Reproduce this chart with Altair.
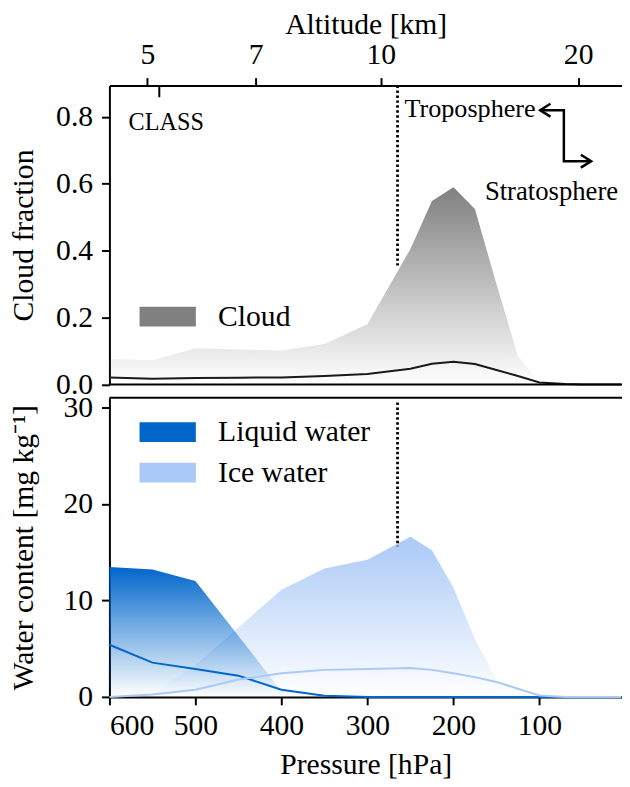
import altair as alt
import pandas as pd

# ---------------- data ----------------
pressure = [600, 550, 500, 450, 400, 350, 300, 250, 225, 200, 175, 150, 125, 100, 70, 50, 30, 20, 10, 5]
cloud_area = [0.076, 0.072, 0.108, 0.104, 0.101, 0.121, 0.180, 0.405, 0.548, 0.589, 0.524, 0.300, 0.085, 0.006, 0, 0, 0, 0, 0, 0]
cloud_line = [0.021, 0.017, 0.019, 0.020, 0.021, 0.025, 0.031, 0.047, 0.062, 0.068, 0.061, 0.043, 0.025, 0.006, 0.001, 0, 0, 0, 0, 0]
liquid_area = [13.45, 13.2, 12.0, 6.3, 0.6, 0.05, 0, 0, 0, 0, 0, 0, 0, 0, 0, 0, 0, 0, 0, 0]
liquid_line = [5.4, 3.55, 2.9, 2.2, 0.75, 0.12, 0, 0, 0, 0, 0, 0, 0, 0, 0, 0, 0, 0, 0, 0]
ice_area = [0.0, 0.3, 3.3, 7.2, 11.1, 13.3, 14.2, 16.6, 15.2, 11.3, 6.0, 1.8, 0.95, 0.05, 0, 0, 0, 0, 0, 0]
ice_line = [0.0, 0.25, 0.75, 1.8, 2.45, 2.8, 2.9, 3.0, 2.8, 2.45, 2.05, 1.55, 0.85, 0.15, 0.0, 0, 0, 0, 0, 0]

pressure_ticks = [600, 500, 400, 300, 200, 100]
altitude_km = ["5", "7", "10", "20"]
altitude_p = [555.8, 430.0, 284.4, 55.0]
cloud_ticks = [0.0, 0.2, 0.4, 0.6, 0.8]
water_ticks = [0, 10, 20, 30]

tropopause_p = 265
class_p = 542

# ---------------- layout constants ----------------
FONT = "Liberation Serif"
FS = 30
W, H = 519, 619
X_DOMAIN = [600, 4]
TOP_RANGE = [302.6, 0]
BOT_RANGE = [619, 316]
TOP_DOMAIN = [0, 0.893]
BOT_DOMAIN = [0, 31]

C_CLOUD = "#808080"
C_LIQ = "#0066cc"
C_ICE = "#a9c9f6"

df = pd.DataFrame({
    "p": pressure,
    "cloud_area": cloud_area,
    "cloud_line": cloud_line,
    "liquid_area": liquid_area,
    "liquid_line": liquid_line,
    "ice_area": ice_area,
    "ice_line": ice_line,
})

xs = alt.Scale(domain=X_DOMAIN, nice=False)
ys_top = alt.Scale(domain=TOP_DOMAIN, nice=False, range=TOP_RANGE)
ys_bot = alt.Scale(domain=BOT_DOMAIN, nice=False, range=BOT_RANGE)

label_expr = "[" + ",".join("'%s'" % k for k in altitude_km) + "][indexof([" + ",".join(str(v) for v in altitude_p) + "], datum.value)]"

ax_top = alt.Axis(orient="top", values=altitude_p, labelExpr=label_expr, title="Altitude [km]",
                  titleY=-53, titleBaseline="alphabetic", labelPadding=8)
ax_bot = alt.Axis(orient="bottom", values=pressure_ticks, format="d", title="Pressure [hPa]",
                  titleY=78, titleBaseline="alphabetic", labelPadding=6)
ay_top = alt.Axis(orient="left", values=cloud_ticks, format=".1f", title="Cloud fraction",
                  titleX=-77.5, titleY=151.3, titleAngle=270, titleAlign="center", titleBaseline="alphabetic")
ay_bot = alt.Axis(orient="left", values=water_ticks, format="d", title="Water content [mg kg⁻¹]",
                  titleX=-77.5, titleY=467.5, titleAngle=270, titleAlign="center", titleBaseline="alphabetic")


def XT(f="p"):
    return alt.X(f"{f}:Q", scale=xs, axis=ax_top)


def XB(f="p"):
    return alt.X(f"{f}:Q", scale=xs, axis=ax_bot)


def YT(f):
    return alt.Y(f"{f}:Q", scale=ys_top, axis=ay_top)


def YB(f):
    return alt.Y(f"{f}:Q", scale=ys_bot, axis=ay_bot)


def grad(r, g, b):
    return alt.Gradient(
        gradient="linear",
        stops=[alt.GradientStop(color=f"rgba({r},{g},{b},0)", offset=0),
               alt.GradientStop(color=f"rgba({r},{g},{b},1)", offset=1)],
        x1=1, x2=1, y1=1, y2=0,
    )


legend_common = dict(orient="none", title=None, symbolType="M-2.85,-1H2.85V1H-2.85Z", symbolSize=400,
                     symbolStrokeWidth=0, symbolOpacity=1, labelFont=FONT, labelFontSize=FS,
                     labelColor="black", padding=0, labelLimit=400)

# ---------------- top panel ----------------
cloud_fill = alt.Chart(df).mark_area(color=grad(128, 128, 128), line=False).encode(x=XT(), y=YT("cloud_area"))

cloud_leg_df = pd.DataFrame({"p": pressure, "v": cloud_area, "series": ["Cloud"] * len(pressure)})
cloud_leg = alt.Chart(cloud_leg_df).mark_area(opacity=0).encode(
    x=XT(), y=YT("v"),
    color=alt.Color("series:N", scale=alt.Scale(domain=["Cloud"], range=[C_CLOUD]),
                    legend=alt.Legend(legendX=44, legendY=219, labelOffset=36, **legend_common)),
)

cloud_ln = alt.Chart(df).mark_line(color="#1a1a1a", strokeWidth=2).encode(x=XT(), y=YT("cloud_line"))

trop_top_df = pd.DataFrame({"p": [tropopause_p], "v": [TOP_DOMAIN[1]], "v2": [0.355]})
trop_top = alt.Chart(trop_top_df).mark_rule(color="black", strokeWidth=2.8, strokeDash=[2.5, 2.5]).encode(
    x=XT(), y=YT("v"), y2="v2")

class_df = pd.DataFrame({"p": [class_p], "v": [TOP_DOMAIN[1]], "v2": [0.858]})
class_rule = alt.Chart(class_df).mark_rule(color="black", strokeWidth=2).encode(x=XT(), y=YT("v"), y2="v2")

class_df_t = pd.DataFrame({"p": [577.7], "v": [0.781], "t": ["CLASS"]})
class_text = alt.Chart(class_df_t).mark_text(font=FONT, fontSize=24.5, align="left", baseline="middle", color="black").encode(
    x=XT(), y=YT("v"), text="t:N")
tropo_df = pd.DataFrame({"p": [257.0], "v": [0.823], "t": ["Troposphere"]})
tropo_text = alt.Chart(tropo_df).mark_text(font=FONT, fontSize=26.5, align="left", baseline="middle", color="black").encode(
    x=XT(), y=YT("v"), text="t:N")
strat_df = pd.DataFrame({"p": [8.5], "v": [0.574], "t": ["Stratosphere"]})
strat_text = alt.Chart(strat_df).mark_text(font=FONT, fontSize=27, align="right", baseline="middle", color="black").encode(
    x=XT(), y=YT("v"), text="t:N")

arrow_df = pd.DataFrame({"p": [99.2, 71.6, 71.6, 39.9], "v": [0.8195, 0.8195, 0.667, 0.667], "o": [0, 1, 2, 3]})
arrow_ln = alt.Chart(arrow_df).mark_line(color="black", strokeWidth=2.5).encode(x=XT(), y=YT("v"), order="o:Q")
head_l_df = pd.DataFrame({"p": [99.2], "v": [0.8195]})
head_l = alt.Chart(head_l_df).mark_point(shape="M1.6,-1L0,0L1.6,1", size=170, filled=False, color="black",
                                         strokeWidth=2.5, opacity=1).encode(x=XT(), y=YT("v"))
head_r_df = pd.DataFrame({"p": [39.9], "v": [0.667]})
head_r = alt.Chart(head_r_df).mark_point(shape="M-1.6,-1L0,0L-1.6,1", size=170, filled=False, color="black",
                                         strokeWidth=2.5, opacity=1).encode(x=XT(), y=YT("v"))

frame_top_df = pd.DataFrame({"p": [X_DOMAIN[0]], "p2": [X_DOMAIN[1]], "v": [0.0]})
frame_top = alt.Chart(frame_top_df).mark_rule(color="black", strokeWidth=2).encode(x=XT(), x2="p2", y=YT("v"))

top = alt.layer(cloud_fill, cloud_leg, cloud_ln, trop_top, class_rule, class_text, tropo_text, strat_text,
                arrow_ln, head_l, head_r, frame_top)

# ---------------- bottom panel ----------------
ice_fill = alt.Chart(df).mark_area(color=grad(169, 201, 246), line=False).encode(x=XB(), y=YB("ice_area"))
liq_fill = alt.Chart(df).mark_area(color=grad(0, 102, 204), line=False).encode(x=XB(), y=YB("liquid_area"))

water_leg_df = pd.DataFrame({
    "p": pressure + pressure,
    "v": liquid_area + ice_area,
    "series": ["Liquid water"] * len(pressure) + ["Ice water"] * len(pressure),
})
water_leg = alt.Chart(water_leg_df).mark_area(opacity=0).encode(
    x=XB(), y=YB("v"),
    color=alt.Color("series:N", sort=["Liquid water", "Ice water"],
                    scale=alt.Scale(domain=["Liquid water", "Ice water"], range=[C_LIQ, C_ICE]),
                    legend=alt.Legend(legendX=44, legendY=336, labelOffset=36, rowPadding=11, **legend_common)),
)

liq_ln = alt.Chart(df).mark_line(color=C_LIQ, strokeWidth=2).encode(x=XB(), y=YB("liquid_line"))
ice_ln = alt.Chart(df).mark_line(color=C_ICE, strokeWidth=2).encode(x=XB(), y=YB("ice_line"))

trop_bot_df = pd.DataFrame({"p": [tropopause_p], "v": [30.5], "v2": [15.6]})
trop_bot = alt.Chart(trop_bot_df).mark_rule(color="black", strokeWidth=2.8, strokeDash=[2.5, 2.5]).encode(
    x=XB(), y=YB("v"), y2="v2")

frame_bot_df = pd.DataFrame({"p": [X_DOMAIN[0]], "p2": [X_DOMAIN[1]], "v": [BOT_DOMAIN[1]]})
frame_bot = alt.Chart(frame_bot_df).mark_rule(color="black", strokeWidth=2).encode(x=XB(), x2="p2", y=YB("v"))

bottom = alt.layer(ice_fill, liq_fill, water_leg, liq_ln, ice_ln, trop_bot, frame_bot)

chart = (
    alt.layer(top, bottom)
    .resolve_scale(x="independent", y="independent", color="independent")
    .properties(width=W, height=H, padding={"left": 102.7, "top": 73.7, "right": 0, "bottom": 80},
                autosize=alt.AutoSizeParams(type="none"))
    .configure_view(stroke=None)
    .configure_axis(
        labelFont=FONT, titleFont=FONT, labelFontSize=FS, titleFontSize=FS, titleFontWeight="normal",
        labelColor="black", titleColor="black", domainColor="black", tickColor="black",
        domainWidth=2, tickWidth=2, tickSize=8, grid=False, zindex=1, labelPadding=9,
    )
)

chart.save("out.html", embed_options={"renderer": "svg", "actions": False})
